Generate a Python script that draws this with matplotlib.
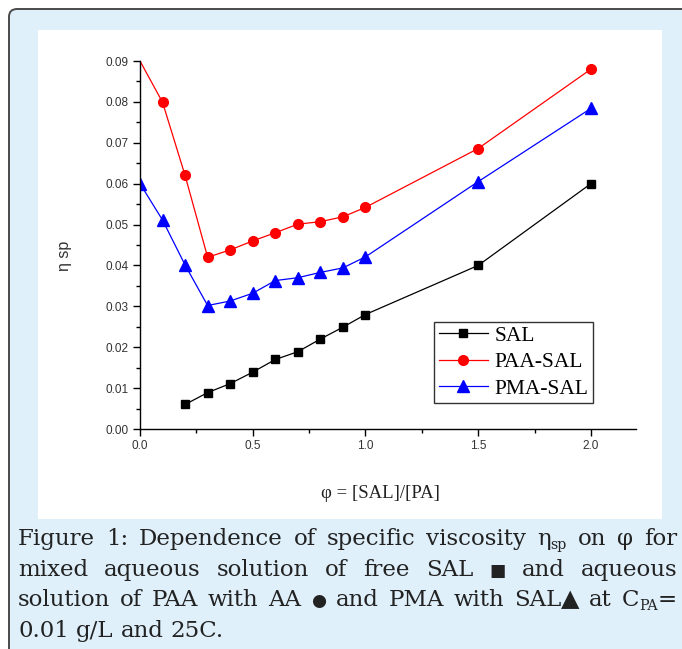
import matplotlib
matplotlib.use("Agg")
import matplotlib.pyplot as plt
from matplotlib.patches import FancyBboxPatch, Rectangle
from matplotlib.ticker import MultipleLocator

# ratio phi = [SAL]/[PA]
phi_sal = [0.2, 0.3, 0.4, 0.5, 0.6, 0.7, 0.8, 0.9, 1.0, 1.5, 2.0]
eta_sal = [0.0060, 0.0089, 0.0111, 0.0139, 0.0170, 0.0189, 0.0220, 0.0249, 0.0280, 0.0400, 0.0600]

phi_pa = [0.0, 0.1, 0.2, 0.3, 0.4, 0.5, 0.6, 0.7, 0.8, 0.9, 1.0, 1.5, 2.0]
eta_paa = [0.0900, 0.0799, 0.0620, 0.0420, 0.0438, 0.0460, 0.0480, 0.0501, 0.0507, 0.0519, 0.0542, 0.0686, 0.0880]
eta_pma = [0.0600, 0.0511, 0.0401, 0.0302, 0.0313, 0.0332, 0.0363, 0.0370, 0.0383, 0.0394, 0.0421, 0.0605, 0.0784]

series_labels = ["SAL", "PAA-SAL", "PMA-SAL"]

caption_lines = [
    [["Figure"], ["1:"], ["Dependence"], ["of"], ["specific"], ["viscosity"],
     ["η", ("sp", "sub")], ["on"], ["φ"], ["for"]],
    [["mixed"], ["aqueous"], ["solution"], ["of"], ["free"], ["SAL"],
     [("■", "sym")], ["and"], ["aqueous"]],
    [["solution"], ["of"], ["PAA"], ["with"], ["AA"], [("●", "sym")], ["and"],
     ["PMA"], ["with"], ["SAL", ("▲", "big")], ["at"], ["C", ("PA", "sub"), "="]],
    [["0.01"], ["g/L"], ["and"], ["25C."]],
]

W, H = 682, 649
BG = "#dff0fb"
TXT = "#222222"

fig = plt.figure(figsize=(W / 100, H / 100), dpi=100)
fig.patch.set_facecolor("white")


def fx(px):
    return px / W


def fy(py):
    return 1 - py / H


# outer caption panel and white plot area
panel = FancyBboxPatch((fx(9), fy(700)), fx(720), fy(9) - fy(700),
                       boxstyle="round,pad=0,rounding_size=0.012",
                       transform=fig.transFigure, facecolor=BG,
                       edgecolor="#4a4a4a", linewidth=1.4, zorder=0)
fig.patches.append(panel)
fig.patches.append(Rectangle((fx(38), fy(519)), fx(624), fy(30) - fy(519),
                             transform=fig.transFigure, facecolor="white",
                             edgecolor="none", zorder=1))

ax = fig.add_axes([fx(140), fy(429), fx(496), fy(61) - fy(429)])
ax.set_facecolor("white")
ax.set_zorder(2)

ax.plot(phi_sal, eta_sal, color="black", marker="s", ms=6, lw=0.9,
        label=series_labels[0])
ax.plot(phi_pa, eta_paa, color="red", marker="o", ms=7, lw=0.9,
        markevery=list(range(1, len(phi_pa))), label=series_labels[1])
ax.plot(phi_pa, eta_pma, color="blue", marker="^", ms=8, lw=0.9,
        label=series_labels[2])

ax.set_xlim(0, 2.2)
ax.set_ylim(0, 0.09)
ax.xaxis.set_major_locator(MultipleLocator(0.5))
ax.xaxis.set_minor_locator(MultipleLocator(0.25))
ax.yaxis.set_major_locator(MultipleLocator(0.01))
ax.yaxis.set_minor_locator(MultipleLocator(0.005))
ax.set_xticks([0.0, 0.5, 1.0, 1.5, 2.0])
ax.set_xticklabels(["0.0", "0.5", "1.0", "1.5", "2.0"])
ax.set_yticklabels([f"{v:.2f}" for v in ax.get_yticks()])
for s in ["top", "right"]:
    ax.spines[s].set_visible(False)
for s in ["left", "bottom"]:
    ax.spines[s].set_linewidth(1.0)
ax.tick_params(which="major", direction="out", length=5, width=1,
               labelsize=8.5, labelcolor="#333333", pad=3)
ax.tick_params(which="minor", direction="out", length=3, width=1)
for lab in ax.get_xticklabels() + ax.get_yticklabels():
    lab.set_family("Liberation Sans")

leg = ax.legend(loc="lower right", bbox_to_anchor=(0.913, 0.07), borderaxespad=0,
                prop={"family": "Liberation Serif", "size": 15.5}, frameon=True,
                fancybox=False, handlelength=2.3, handletextpad=0.3,
                labelspacing=0.3, borderpad=0.2)
leg.get_frame().set_edgecolor("black")
leg.get_frame().set_linewidth(1.0)

fig.text(fx(65), fy(256), "η sp", rotation=90, ha="center", va="center",
         family="Liberation Sans", fontsize=11.5, color="#333333", zorder=3)
fig.text(fx(380), fy(494), "φ = [SAL]/[PA]", ha="center", va="center",
         family="Liberation Serif", fontsize=13.5, color=TXT, zorder=3)

# justified caption, laid out word by word
renderer = fig.canvas.get_renderer()
FAM = ["DejaVu Serif", "DejaVu Sans"]
SIZE = 16.5
LEFT, RIGHT = 18, 677
baselines = [545, 576, 606, 637]


def seg_style(seg):
    if isinstance(seg, tuple):
        txt, kind = seg
    else:
        txt, kind = seg, "normal"
    if kind == "sub":
        return txt, SIZE * 0.62, -4
    if kind == "sym":
        return txt, SIZE * 0.75, 0
    if kind == "big":
        return txt, SIZE * 1.05, 0
    return txt, SIZE, 0


def place_word(word, x, base):
    for seg in word:
        txt, size, dy = seg_style(seg)
        t = fig.text(fx(x), fy(base - dy), txt, ha="left", va="baseline",
                     family=FAM, fontsize=size, color=TXT, zorder=3)
        x += t.get_window_extent(renderer).width
    return x


def word_width(word):
    total = 0
    for seg in word:
        txt, size, dy = seg_style(seg)
        t = fig.text(0, 0, txt, family=FAM, fontsize=size)
        total += t.get_window_extent(renderer).width
        t.remove()
    return total


for i, line in enumerate(caption_lines):
    widths = [word_width(w) for w in line]
    if i < len(caption_lines) - 1:
        gap = (RIGHT - LEFT - sum(widths)) / (len(line) - 1)
    else:
        gap = word_width([" "])
    x = LEFT
    for w, wd in zip(line, widths):
        place_word(w, x, baselines[i])
        x += wd + gap

fig.savefig("out.png", dpi=100, facecolor="white")
